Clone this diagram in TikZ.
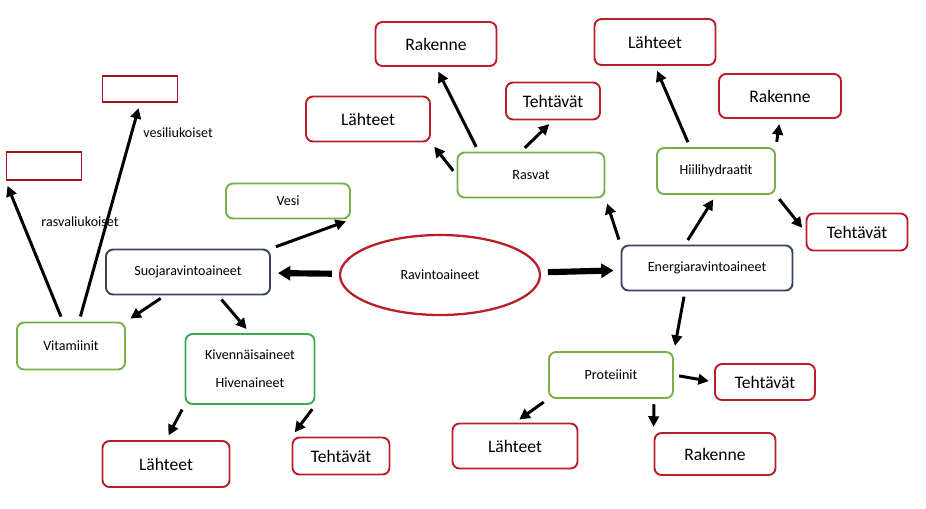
\documentclass[tikz,border=0pt]{standalone}
\usepackage{fontspec}
\setmainfont{Carlito}
\usetikzlibrary{shapes.geometric,arrows.meta}
\begin{document}
\begin{tikzpicture}[x=0.02cm,y=-0.02cm,
  sz/.style 2 args={minimum width=#1*0.02cm,minimum height=#2*0.02cm},
  box/.style={draw,line width=1.1pt,rounded corners=4pt,fill=white,inner sep=0pt,align=center},
  red/.style={box,draw={rgb,255:red,185;green,30;blue,40},font=\fontsize{10}{12}\selectfont},
  grn/.style={box,draw={rgb,255:red,120;green,175;blue,70},font=\fontsize{8}{10}\selectfont},
  blu/.style={box,draw={rgb,255:red,55;green,70;blue,95},font=\fontsize{8}{10}\selectfont},
  ar/.style={-{Triangle[length=6pt,width=6pt]},line width=1.7pt,shorten <=3pt,shorten >=3pt},
  big/.style={-{Triangle[length=7pt,width=8pt]},line width=3.5pt,shorten <=4pt,shorten >=4pt},
  lab/.style={font=\fontsize{8}{10}\selectfont}]
\useasboundingbox (0,0) rectangle (926,508);
\node[ellipse,draw={rgb,255:red,185;green,30;blue,40},line width=1.3pt,sz={200}{80},font=\fontsize{8}{10}\selectfont] (rav) at (440,275) {Ravintoaineet};
\node[blu,sz={164}{45}] (suo) at (188,272) {Suojaravintoaineet};
\node[blu,sz={171}{45}] (ene) at (707,268) {Energiaravintoaineet};
\node[grn,sz={124}{35}] (ves) at (288,201) {Vesi};
\node[grn,sz={108}{47}] (vit) at (71,346) {Vitamiinit};
\node[grn,draw={rgb,255:red,60;green,170;blue,80},sz={129}{70},font=\fontsize{8}{16}\selectfont] (kiv) at (250,369) {Kivennäisaineet\\Hivenaineet};
\node[red,sz={127}{46}] (l1) at (166,464) {Lähteet};
\node[red,sz={97}{37}] (t1) at (341,456) {Tehtävät};
\node[box,draw={rgb,255:red,160;green,20;blue,30},rounded corners=0pt,sz={75}{26}] (e1) at (140,89) {};
\node[box,draw={rgb,255:red,160;green,20;blue,30},rounded corners=0pt,sz={75}{28}] (e2) at (44,166) {};
\node[lab] (vl) at (178,133) {vesiliukoiset};
\node[lab] (rl) at (80,222) {rasvaliukoiset};
\node[grn,sz={147}{45}] (ras) at (531,175) {Rasvat};
\node[red,sz={124}{45}] (l2) at (368,119) {Lähteet};
\node[red,sz={121}{44}] (r2) at (436,44) {Rakenne};
\node[red,sz={94}{37}] (t2) at (553,101) {Tehtävät};
\node[red,sz={121}{46}] (l3) at (655,42) {Lähteet};
\node[grn,sz={118}{46}] (hii) at (716,171) {Hiilihydraatit};
\node[red,sz={122}{44}] (r3) at (780,96) {Rakenne};
\node[red,sz={101}{37}] (t3) at (857,232) {Tehtävät};
\node[grn,sz={124}{46}] (pro) at (611,375) {Proteiinit};
\node[red,sz={100}{36}] (t4) at (765,382) {Tehtävät};
\node[red,sz={125}{45}] (l4) at (515,446) {Lähteet};
\node[red,sz={121}{42}] (r4) at (715,454) {Rakenne};
\draw[big] (rav) -- (suo);
\draw[big] (rav) -- (ene);
\draw[ar] (suo.north east) -- (ves.south east);
\draw[ar] ([xshift=60*0.02cm]suo.south west) -- (vit.north east);
\draw[ar] ([xshift=30*0.02cm]suo.south) -- (kiv.north);
\draw[ar] ([xshift=-8*0.02cm]vit.north) -- (e2.south west);
\draw[ar] ([xshift=8*0.02cm]vit.north) -- (e1.south);
\draw[ar] (kiv.south west) -- (l1.north);
\draw[ar] (kiv.south east) -- (t1.north west);
\draw[ar] (ene.north west) -- (ras.south east);
\draw[ar] ([xshift=-22*0.02cm]ene.north) -- (hii.south);
\draw[ar] ([xshift=-22*0.02cm]ene.south) -- (pro.north east);
\draw[ar] (ras.west) -- (l2.south east);
\draw[ar] ([xshift=22*0.02cm]ras.north west) -- (r2.south);
\draw[ar] ([xshift=-10*0.02cm]ras.north) -- (t2.south);
\draw[ar] ([xshift=-26*0.02cm]hii.north) -- (l3.south);
\draw[ar] (hii.north east) -- (r3.south);
\draw[ar] (hii.south east) -- (t3.west);
\draw[ar] (pro.east) -- (t4.west);
\draw[ar] (pro.south west) -- (l4.north);
\draw[ar] ([xshift=-20*0.02cm]pro.south east) -- (r4.north west);
\end{tikzpicture}
\end{document}
